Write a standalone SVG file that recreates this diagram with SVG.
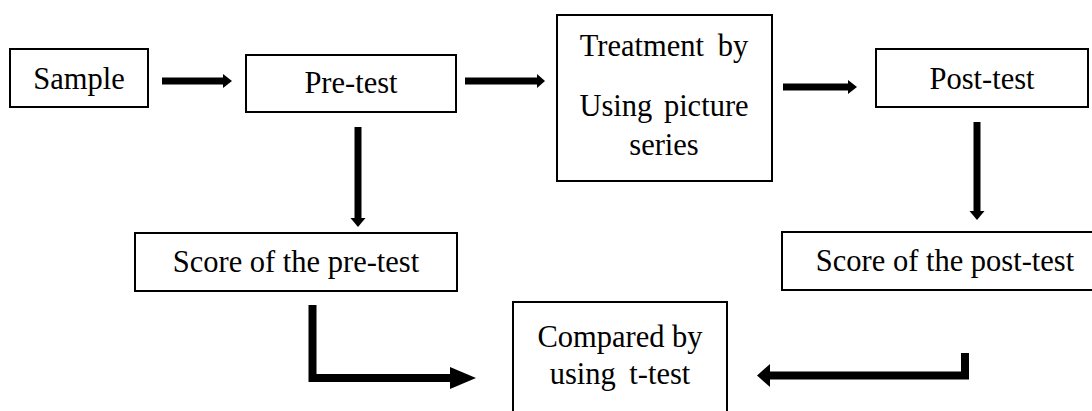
<svg xmlns="http://www.w3.org/2000/svg" width="1092" height="411" viewBox="0 0 1092 411">
<style>
.box{fill:#fff;stroke:#000;stroke-width:2}
.t{font-family:"Liberation Serif","Times New Roman",serif;font-size:30.5px;fill:#000;text-anchor:middle}
.shaft{fill:none;stroke:#000;stroke-linejoin:miter;stroke-linecap:butt}
.head{fill:#000}
</style>
<rect width="1092" height="411" fill="#fff"/>
<g id="connectors">
<line class="shaft" x1="162" y1="81" x2="224" y2="81" stroke-width="7"/>
<polygon class="head" points="223,74 232,81 223,88"/>
<line class="shaft" x1="465" y1="81" x2="538" y2="81" stroke-width="7"/>
<polygon class="head" points="537,74 545,81 537,88"/>
<line class="shaft" x1="783" y1="87" x2="849" y2="87" stroke-width="7"/>
<polygon class="head" points="848,80 857,87 848,94"/>
<line class="shaft" x1="358" y1="127" x2="358" y2="219" stroke-width="7"/>
<polygon class="head" points="350.5,218 365.5,218 358,227"/>
<line class="shaft" x1="977" y1="122" x2="977" y2="212" stroke-width="7"/>
<polygon class="head" points="969.5,211 984.5,211 977,220"/>
<path class="shaft" d="M312.5,305 V378 H451" stroke-width="8"/>
<polygon class="head" points="450,367 476,378 450,389"/>
<path class="shaft" d="M965,353 V375.5 H769" stroke-width="8"/>
<polygon class="head" points="770,364 757,375.5 770,387"/>
</g>
<g id="sample">
<rect class="box" x="10" y="49" width="138" height="58"/>
<text class="t" x="79" y="89">Sample</text>
</g>
<g id="pretest">
<rect class="box" x="246" y="55" width="210" height="57"/>
<text class="t" x="351" y="93">Pre-test</text>
</g>
<g id="treatment">
<rect class="box" x="557" y="15" width="215" height="166"/>
<text class="t" x="664" y="56" word-spacing="6">Treatment by</text>
<text class="t" x="664" y="116" word-spacing="4">Using picture</text>
<text class="t" x="664" y="155">series</text>
</g>
<g id="posttest">
<rect class="box" x="876" y="49" width="212" height="58"/>
<text class="t" x="982" y="89">Post-test</text>
</g>
<g id="score-pre">
<rect class="box" x="135" y="233" width="322" height="58"/>
<text class="t" x="296" y="272">Score of the pre-test</text>
</g>
<g id="score-post">
<rect class="box" x="782" y="232" width="330" height="58"/>
<text class="t" x="945" y="271">Score of the post-test</text>
</g>
<g id="compared">
<rect class="box" x="513" y="302" width="214" height="120"/>
<text class="t" x="620" y="347">Compared by</text>
<text class="t" x="620" y="384" word-spacing="6">using t-test</text>
</g>
</svg>
